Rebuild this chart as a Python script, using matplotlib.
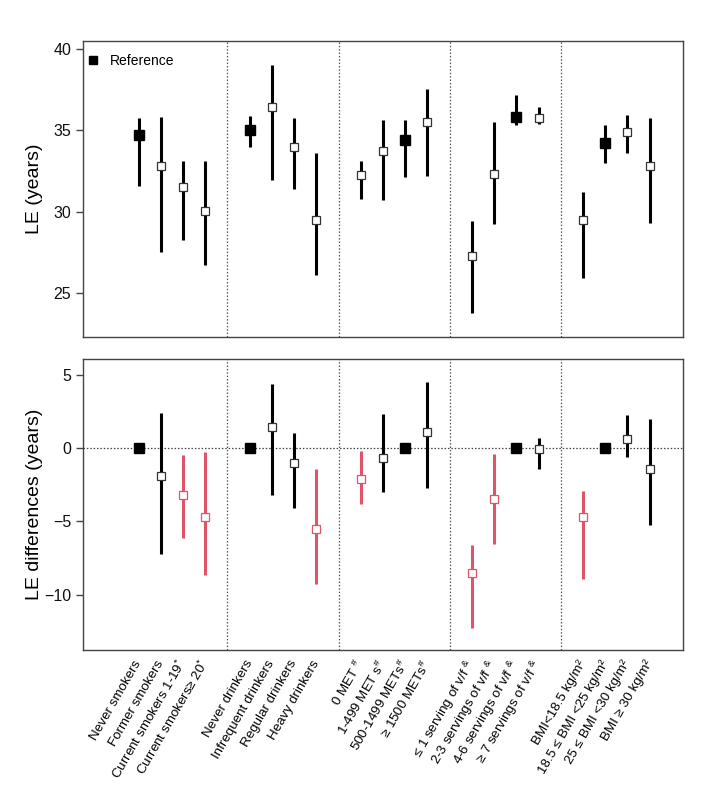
import matplotlib
matplotlib.use('Agg')
import matplotlib.pyplot as plt
from matplotlib.lines import Line2D
from matplotlib.mathtext import MathTextParser

plt.rcParams['font.family'] = ['Liberation Sans', 'DejaVu Sans']
plt.rcParams['mathtext.fontset'] = 'custom'
plt.rcParams['mathtext.rm'] = 'Liberation Sans'
plt.rcParams['mathtext.it'] = 'Liberation Sans:italic'
plt.rcParams['mathtext.bf'] = 'Liberation Sans:bold'

AMP = r"$^{&}$"
try:
    MathTextParser('path').parse(AMP)
except Exception:
    AMP = " &"

# ---------------- data ----------------
labels = [
    "Never smokers", "Former smokers", r"Current smokers 1-19$^{*}$", r"Current smokers≥ 20$^{*}$",
    "Never drinkers", "Infrequent drinkers", "Regular drinkers", "Heavy drinkers",
    r"0 MET $^{\#}$", r"1-499 MET s$^{\#}$", r"500-1499 METs$^{\#}$", r"≥ 1500 METs$^{\#}$",
    "≤ 1 serving of v/f " + AMP, "2-3 servings of v/f " + AMP, "4-6 servings of v/f " + AMP, "≥ 7 servings of v/f " + AMP,
    "BMI<18.5 kg/m²", "18.5 ≤ BMI <25 kg/m²", "25 ≤ BMI <30 kg/m²", "BMI ≥ 30 kg/m²",
]
positions = [1, 2, 3, 4, 6, 7, 8, 9, 11, 12, 13, 14, 16, 17, 18, 19, 21, 22, 23, 24]
group_breaks = [5, 10, 15, 20]

is_ref = [True, False, False, False,
          True, False, False, False,
          False, False, True, False,
          False, False, True, False,
          False, True, False, False]

le    = [34.71, 32.80, 31.50, 30.04, 35.02, 36.46, 34.01, 29.51, 32.24, 33.75, 34.40, 35.51,
         27.24, 32.30, 35.80, 35.76, 29.46, 34.22, 34.88, 32.80]
le_lo = [31.60, 27.53, 28.27, 26.69, 33.97, 31.96, 31.38, 26.07, 30.80, 30.72, 32.14, 32.18,
         23.77, 29.26, 35.33, 35.37, 25.91, 32.98, 33.64, 29.30]
le_hi = [35.76, 35.82, 33.09, 33.09, 35.88, 39.06, 35.76, 33.60, 33.13, 35.62, 35.66, 37.53,
         29.40, 35.51, 37.20, 36.46, 31.23, 35.35, 35.97, 35.76]

diff    = [0.0, -1.90, -3.20, -4.68, 0.0, 1.46, -0.98, -5.50, -2.12, -0.62, 0.0, 1.14,
           -8.56, -3.49, 0.0, -0.03, -4.72, 0.0, 0.68, -1.39]
diff_lo = [0.0, -7.20, -6.16, -8.68, 0.0, -3.20, -4.07, -9.27, -3.79, -3.01, 0.0, -2.74,
           -12.26, -6.57, 0.0, -1.44, -8.96, 0.0, -0.57, -5.24]
diff_hi = [0.0, 2.40, -0.46, -0.23, 0.0, 4.40, 1.07, -1.40, -0.20, 2.33, 0.0, 4.52,
           -6.62, -0.41, 0.0, 0.73, -2.88, 0.0, 2.27, 2.00]
significant = [False, False, True, True, False, False, False, True, True, False, False, False,
               True, True, False, False, True, False, False, False]

# ---------------- style ----------------
BLACK = '#000000'
PINK = '#DF536B'
FRAME = '#444444'

fig = plt.figure(figsize=(7.04, 7.97), dpi=100)
ax1 = fig.add_axes([0.1179, 0.5772, 0.8523, 0.3714])
ax2 = fig.add_axes([0.1179, 0.1844, 0.8523, 0.3651])

for ax in (ax1, ax2):
    ax.set_xlim(-1.5, 25.5)
    for s in ax.spines.values():
        s.set_color(FRAME)
        s.set_linewidth(1.0)
    ax.tick_params(axis='y', colors=FRAME, labelcolor='#111111', labelsize=11.5, length=5, width=1)
    for b in group_breaks:
        ax.axvline(b, color='#555555', linestyle=(0, (1.2, 1.5)), linewidth=0.9, zorder=1)

# ---- top panel ----
for x, m, lo, hi, r in zip(positions, le, le_lo, le_hi, is_ref):
    ax1.vlines(x, lo, hi, color=BLACK, linewidth=2.2, zorder=2)
    if r:
        ax1.plot(x, m, marker='s', markersize=6.5, color=BLACK, zorder=3)
    else:
        ax1.plot(x, m, marker='s', markersize=6.3, markerfacecolor='white',
                 markeredgecolor='#333333', markeredgewidth=0.9, zorder=3)
ax1.set_ylim(22.28, 40.51)
ax1.set_yticks([25, 30, 35, 40])
ax1.set_xticks([])
ax1.set_ylabel('LE (years)', fontsize=14)
ax1.yaxis.set_label_coords(-0.066, 0.5)
handle = Line2D([], [], marker='s', linestyle='none', color=BLACK, markersize=5.5)
ax1.legend([handle], ['Reference'], loc='upper left', bbox_to_anchor=(0.0, 0.98),
           frameon=False, fontsize=10,
           handlelength=0.5, handletextpad=0.9, borderaxespad=0.2, borderpad=0.3)

# ---- bottom panel ----
ax2.axhline(0, color='#444444', linestyle=(0, (1.2, 1.5)), linewidth=0.9, zorder=1)
for x, m, lo, hi, r, sg in zip(positions, diff, diff_lo, diff_hi, is_ref, significant):
    if r:
        ax2.plot(x, m, marker='s', markersize=6.5, color=BLACK, zorder=3)
        continue
    c = PINK if sg else BLACK
    ax2.vlines(x, lo, hi, color=c, linewidth=2.2, zorder=2)
    ax2.plot(x, m, marker='s', markersize=6.3, markerfacecolor='white',
             markeredgecolor=(PINK if sg else '#333333'), markeredgewidth=0.9, zorder=3)
ax2.set_ylim(-13.8, 6.12)
ax2.set_yticks([-10, -5, 0, 5])
ax2.set_ylabel('LE differences (years)', fontsize=14)
ax2.yaxis.set_label_coords(-0.066, 0.5)
ax2.set_xticks(positions)
ax2.set_xticklabels(labels, rotation=60, ha='right', va='center', rotation_mode='anchor',
                    fontsize=9.6)
ax2.tick_params(axis='x', length=0, pad=8)

fig.savefig('out.png', dpi=100)
